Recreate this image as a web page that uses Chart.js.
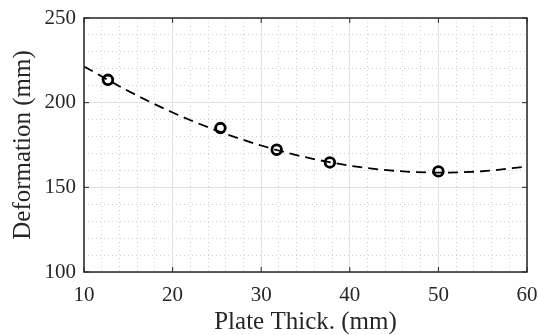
<!DOCTYPE html>
<html>
<head>
<meta charset="utf-8">
<script src="https://cdn.jsdelivr.net/npm/chart.js@4"></script>
<style>
  html, body { margin: 0; padding: 0; background: #fff; }
  #wrap { width: 538px; height: 335px; }
</style>
</head>
<body>
<div id="wrap"><canvas id="chart" width="538" height="335"></canvas></div>
<script>
// measured points
const thicknessMm = [12.7, 25.4, 31.75, 37.75, 50];
const deformationMm = [213.5, 185, 172.2, 164.7, 159.4];

// dashed fit line
const fitThickness = [10, 15, 20, 25, 30, 35, 40, 45, 50, 55, 60];
const fitDeformation = [221.4, 206.9, 194.2, 183.5, 174.7, 167.8, 162.8, 159.8, 158.7, 159.5, 162.3];

const xTicks = [10, 20, 30, 40, 50, 60];
const yTicks = [100, 150, 200, 250];

Chart.defaults.font.family = "'Liberation Serif', 'Times New Roman', serif";
Chart.defaults.color = "#262626";

// no extra room for half labels at the ends
function noPad(s) {
  s.paddingLeft = 0; s.paddingRight = 0; s.paddingTop = 0; s.paddingBottom = 0;
}

// box round the plot and the small inward ticks
const boxPlugin = {
  id: "box",
  afterDatasetsDraw(chart) {
    const { ctx, chartArea: a, scales } = chart;
    ctx.save();
    ctx.strokeStyle = "#262626";
    ctx.lineWidth = 1.5;
    ctx.strokeRect(a.left, a.top, a.right - a.left, a.bottom - a.top);
    ctx.lineWidth = 1;
    const len = 5;
    xTicks.forEach(v => {
      const px = scales.x.getPixelForValue(v);
      ctx.beginPath();
      ctx.moveTo(px, a.bottom); ctx.lineTo(px, a.bottom - len);
      ctx.moveTo(px, a.top); ctx.lineTo(px, a.top + len);
      ctx.stroke();
    });
    yTicks.forEach(v => {
      const py = scales.y.getPixelForValue(v);
      ctx.beginPath();
      ctx.moveTo(a.left, py); ctx.lineTo(a.left + len, py);
      ctx.moveTo(a.right, py); ctx.lineTo(a.right - len, py);
      ctx.stroke();
    });
    ctx.restore();
  }
};

new Chart(document.getElementById("chart"), {
  type: "scatter",
  data: {
    datasets: [
      {
        label: "fit",
        data: fitThickness.map((x, i) => ({ x: x, y: fitDeformation[i] })),
        showLine: true,
        borderColor: "#000",
        borderWidth: 1.8,
        borderDash: [10, 6],
        pointRadius: 0,
        cubicInterpolationMode: "monotone",
        order: 2
      },
      {
        label: "test",
        data: thicknessMm.map((x, i) => ({ x: x, y: deformationMm[i] })),
        pointRadius: 4.8,
        pointBorderWidth: 2.8,
        pointBorderColor: "#000",
        pointBackgroundColor: "rgba(255,255,255,0)",
        order: 1
      }
    ]
  },
  options: {
    responsive: false,
    animation: false,
    layout: { padding: { top: 18, right: 11, left: 0, bottom: 0 } },
    plugins: { legend: { display: false }, tooltip: { enabled: false } },
    scales: {
      xMinor: {
        type: "linear", position: "bottom", min: 10, max: 60,
        ticks: { display: false, stepSize: 2 },
        grid: {
          drawTicks: false,
          color: c => (c.tick && c.tick.value % 10 === 0) ? "rgba(0,0,0,0)" : "#cfcfcf"
        },
        border: { display: false, dash: [1, 3] },
        afterFit: s => { s.height = 0; noPad(s); }
      },
      yMinor: {
        type: "linear", position: "left", min: 100, max: 250,
        ticks: { display: false, stepSize: 10 },
        grid: {
          drawTicks: false,
          color: c => (c.tick && c.tick.value % 50 === 0) ? "rgba(0,0,0,0)" : "#cfcfcf"
        },
        border: { display: false, dash: [1, 3] },
        afterFit: s => { s.width = 0; noPad(s); }
      },
      x: {
        type: "linear", position: "bottom", min: 10, max: 60,
        afterBuildTicks: s => { s.ticks = xTicks.map(v => ({ value: v })); },
        ticks: { font: { size: 21 }, padding: 11, color: "#262626" },
        grid: { drawTicks: false, color: "#e2e2e2", lineWidth: 1 },
        border: { display: false },
        title: {
          display: true, text: "Plate Thick. (mm)", color: "#262626",
          font: { size: 25, lineHeight: 1 }, padding: { top: 0, bottom: 0 }
        },
        afterFit: s => { s.height = 63; noPad(s); }
      },
      y: {
        type: "linear", position: "left", min: 100, max: 250,
        afterBuildTicks: s => { s.ticks = yTicks.map(v => ({ value: v })); },
        ticks: { font: { size: 21 }, padding: 8, color: "#262626" },
        grid: { drawTicks: false, color: "#e2e2e2", lineWidth: 1 },
        border: { display: false },
        title: {
          display: true, text: "Deformation (mm)", color: "#262626",
          font: { size: 25, lineHeight: 1 }, padding: { top: 11, bottom: 0 }
        },
        afterFit: s => { s.width = 84; noPad(s); }
      }
    }
  },
  plugins: [boxPlugin]
});
</script>
</body>
</html>
